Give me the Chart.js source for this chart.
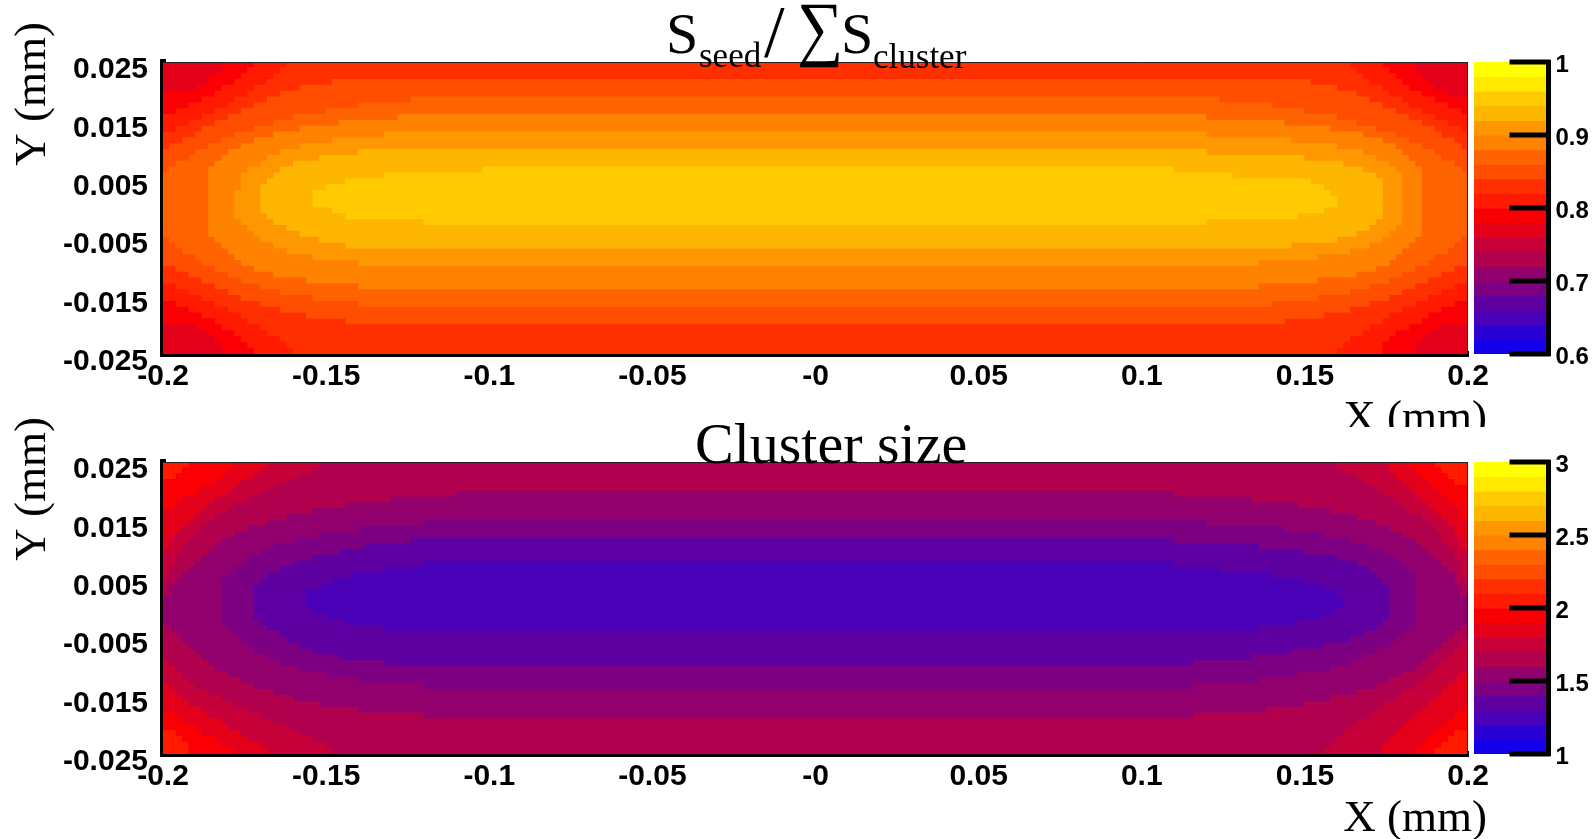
<!DOCTYPE html>
<html>
<head>
<meta charset="utf-8">
<script src="https://cdn.jsdelivr.net/npm/chart.js@4.4.1/dist/chart.umd.min.js"></script>
<style>
  html, body { margin: 0; padding: 0; background: #fff; }
  #page { position: relative; width: 1595px; height: 839px; overflow: hidden; background: #fff; }
  .pad { position: absolute; left: 0; width: 1595px; }
  .pad canvas { position: absolute; top: 0; }
</style>
</head>
<body>
<div id="page">
  <div class="pad" style="top:0;height:427px">
    <canvas id="seedMap" width="1595" height="427" style="left:0"></canvas>
    <canvas id="seedBar" width="121" height="427" style="left:1474px"></canvas>
  </div>
  <div class="pad" style="top:412px;height:427px">
    <canvas id="sizeMap" width="1595" height="427" style="left:0"></canvas>
    <canvas id="sizeBar" width="121" height="427" style="left:1474px"></canvas>
  </div>
</div>
<script>
// axis ticks
const xTickValues = [-0.2, -0.15, -0.1, -0.05, 0, 0.05, 0.1, 0.15, 0.2];
const xTickLabels = ['-0.2', '-0.15', '-0.1', '-0.05', '-0', '0.05', '0.1', '0.15', '0.2'];
const yTickValues = [-0.025, -0.015, -0.005, 0.005, 0.015, 0.025];
const yTickLabels = ['-0.025', '-0.015', '-0.005', '0.005', '0.015', '0.025'];

// y bin centres (mm), top row first
const yRows = [
  0.0245, 0.0235, 0.0225, 0.0215, 0.0205, 0.0195, 0.0185, 0.0175, 0.0165, 0.0155,
  0.0145, 0.0135, 0.0125, 0.0115, 0.0105, 0.0095, 0.0085, 0.0075, 0.0065, 0.0055,
  0.0045, 0.0035, 0.0025, 0.0015, 0.0005, -0.0005, -0.0015, -0.0025, -0.0035, -0.0045,
  -0.0055, -0.0065, -0.0075, -0.0085, -0.0095, -0.0105, -0.0115, -0.0125, -0.0135, -0.0145,
  -0.0155, -0.0165, -0.0175, -0.0185, -0.0195, -0.0205, -0.0215, -0.0225, -0.0235, -0.0245
];

// colour bins (20 contours) for each map
const seedEdges = [0.6, 0.62, 0.64, 0.66, 0.68, 0.7, 0.72, 0.74, 0.76, 0.78, 0.8, 0.82, 0.84, 0.86, 0.88, 0.9, 0.92, 0.94, 0.96, 0.98, 1.0];
const sizeEdges = [1, 1.1, 1.2, 1.3, 1.4, 1.5, 1.6, 1.7, 1.8, 1.9, 2, 2.1, 2.2, 2.3, 2.4, 2.5, 2.6, 2.7, 2.8, 2.9, 3];
const seedBarTicks = [0.6, 0.7, 0.8, 0.9, 1];
const seedBarLabels = ['0.6', '0.7', '0.8', '0.9', '1'];
const sizeBarTicks = [1, 1.5, 2, 2.5, 3];
const sizeBarLabels = ['1', '1.5', '2', '2.5', '3'];
const paletteColors = [
  '#1500ea', '#2a00d5', '#4900b6', '#5e00a1', '#7d0082', '#92006d', '#b1004e', '#c60039', '#e5001a', '#fa0005',
  '#ff1a00', '#ff2f00', '#ff4e00', '#ff6300', '#ff8200', '#ff9700', '#ffb600', '#ffcb00', '#ffea00', '#ffff00'
];

// S_seed / sum S_cluster, one list per y row: [x start (mm), value], each run lasts until the next start
const seedRows = [
  [[-0.2, 0.77], [-0.182, 0.79], [-0.172, 0.81], [-0.162, 0.83], [0.164, 0.81], [0.174, 0.79], [0.184, 0.77]],
  [[-0.2, 0.77], [-0.182, 0.79], [-0.174, 0.81], [-0.164, 0.83], [0.166, 0.81], [0.176, 0.79], [0.184, 0.77]],
  [[-0.2, 0.77], [-0.186, 0.79], [-0.176, 0.81], [-0.166, 0.83], [0.168, 0.81], [0.178, 0.79], [0.186, 0.77]],
  [[-0.2, 0.77], [-0.186, 0.79], [-0.178, 0.81], [-0.168, 0.83], [-0.148, 0.85], [0.152, 0.83], [0.17, 0.81], [0.18, 0.79], [0.188, 0.77]],
  [[-0.2, 0.77], [-0.19, 0.79], [-0.182, 0.81], [-0.172, 0.83], [-0.158, 0.85], [0.16, 0.83], [0.174, 0.81], [0.182, 0.79], [0.19, 0.77]],
  [[-0.2, 0.79], [-0.184, 0.81], [-0.174, 0.83], [-0.164, 0.85], [0.166, 0.83], [0.176, 0.81], [0.186, 0.79], [0.194, 0.77]],
  [[-0.2, 0.79], [-0.188, 0.81], [-0.178, 0.83], [-0.168, 0.85], [-0.124, 0.87], [0.124, 0.85], [0.17, 0.83], [0.18, 0.81], [0.19, 0.79]],
  [[-0.2, 0.79], [-0.192, 0.81], [-0.18, 0.83], [-0.172, 0.85], [-0.14, 0.87], [0.14, 0.85], [0.174, 0.83], [0.182, 0.81], [0.194, 0.79]],
  [[-0.2, 0.79], [-0.196, 0.81], [-0.184, 0.83], [-0.176, 0.85], [-0.15, 0.87], [0.15, 0.85], [0.178, 0.83], [0.186, 0.81], [0.198, 0.79]],
  [[-0.2, 0.81], [-0.188, 0.83], [-0.18, 0.85], [-0.16, 0.87], [-0.128, 0.89], [0.12, 0.87], [0.16, 0.85], [0.182, 0.83], [0.19, 0.81]],
  [[-0.2, 0.81], [-0.192, 0.83], [-0.184, 0.85], [-0.166, 0.87], [-0.146, 0.89], [0.144, 0.87], [0.166, 0.85], [0.186, 0.83], [0.194, 0.81]],
  [[-0.2, 0.81], [-0.196, 0.83], [-0.188, 0.85], [-0.172, 0.87], [-0.158, 0.89], [0.158, 0.87], [0.172, 0.85], [0.19, 0.83], [0.198, 0.81]],
  [[-0.2, 0.83], [-0.19, 0.85], [-0.178, 0.87], [-0.166, 0.89], [-0.132, 0.91], [0.12, 0.89], [0.168, 0.87], [0.178, 0.85], [0.192, 0.83]],
  [[-0.2, 0.83], [-0.194, 0.85], [-0.182, 0.87], [-0.172, 0.89], [-0.148, 0.91], [0.146, 0.89], [0.174, 0.87], [0.182, 0.85], [0.196, 0.83]],
  [[-0.2, 0.83], [-0.198, 0.85], [-0.186, 0.87], [-0.176, 0.89], [-0.158, 0.91], [0.16, 0.89], [0.178, 0.87], [0.186, 0.85], [0.198, 0.83]],
  [[-0.2, 0.85], [-0.19, 0.87], [-0.18, 0.89], [-0.164, 0.91], [-0.14, 0.93], [0.12, 0.91], [0.168, 0.89], [0.18, 0.87], [0.19, 0.85]],
  [[-0.2, 0.85], [-0.192, 0.87], [-0.182, 0.89], [-0.168, 0.91], [-0.152, 0.93], [0.15, 0.91], [0.172, 0.89], [0.182, 0.87], [0.192, 0.85]],
  [[-0.2, 0.85], [-0.196, 0.87], [-0.184, 0.89], [-0.17, 0.91], [-0.16, 0.93], [0.162, 0.91], [0.176, 0.89], [0.184, 0.87], [0.196, 0.85]],
  [[-0.2, 0.85], [-0.198, 0.87], [-0.186, 0.89], [-0.174, 0.91], [-0.164, 0.93], [-0.102, 0.95], [0.11, 0.93], [0.168, 0.91], [0.178, 0.89], [0.186, 0.87], [0.198, 0.85]],
  [[-0.2, 0.87], [-0.186, 0.89], [-0.176, 0.91], [-0.166, 0.93], [-0.132, 0.95], [0.128, 0.93], [0.172, 0.91], [0.18, 0.89], [0.186, 0.87]],
  [[-0.2, 0.87], [-0.186, 0.89], [-0.176, 0.91], [-0.168, 0.93], [-0.144, 0.95], [0.152, 0.93], [0.174, 0.91], [0.18, 0.89], [0.186, 0.87]],
  [[-0.2, 0.87], [-0.186, 0.89], [-0.176, 0.91], [-0.17, 0.93], [-0.15, 0.95], [0.156, 0.93], [0.174, 0.91], [0.18, 0.89], [0.186, 0.87]],
  [[-0.2, 0.87], [-0.186, 0.89], [-0.178, 0.91], [-0.17, 0.93], [-0.154, 0.95], [0.158, 0.93], [0.174, 0.91], [0.18, 0.89], [0.186, 0.87]],
  [[-0.2, 0.87], [-0.186, 0.89], [-0.178, 0.91], [-0.17, 0.93], [-0.154, 0.95], [0.16, 0.93], [0.174, 0.91], [0.18, 0.89], [0.186, 0.87]],
  [[-0.2, 0.87], [-0.186, 0.89], [-0.178, 0.91], [-0.17, 0.93], [-0.154, 0.95], [0.16, 0.93], [0.174, 0.91], [0.18, 0.89], [0.186, 0.87]],
  [[-0.2, 0.87], [-0.186, 0.89], [-0.178, 0.91], [-0.17, 0.93], [-0.148, 0.95], [0.156, 0.93], [0.174, 0.91], [0.18, 0.89], [0.186, 0.87]],
  [[-0.2, 0.87], [-0.186, 0.89], [-0.178, 0.91], [-0.168, 0.93], [-0.144, 0.95], [0.148, 0.93], [0.174, 0.91], [0.18, 0.89], [0.186, 0.87]],
  [[-0.2, 0.87], [-0.186, 0.89], [-0.176, 0.91], [-0.166, 0.93], [-0.12, 0.95], [0.12, 0.93], [0.172, 0.91], [0.18, 0.89], [0.186, 0.87]],
  [[-0.2, 0.87], [-0.186, 0.89], [-0.174, 0.91], [-0.162, 0.93], [0.17, 0.91], [0.178, 0.89], [0.186, 0.87]],
  [[-0.2, 0.87], [-0.186, 0.89], [-0.172, 0.91], [-0.158, 0.93], [0.166, 0.91], [0.176, 0.89], [0.186, 0.87]],
  [[-0.2, 0.85], [-0.198, 0.87], [-0.184, 0.89], [-0.17, 0.91], [-0.152, 0.93], [0.16, 0.91], [0.174, 0.89], [0.184, 0.87], [0.198, 0.85]],
  [[-0.2, 0.85], [-0.196, 0.87], [-0.182, 0.89], [-0.166, 0.91], [-0.144, 0.93], [0.146, 0.91], [0.17, 0.89], [0.182, 0.87], [0.196, 0.85]],
  [[-0.2, 0.85], [-0.194, 0.87], [-0.18, 0.89], [-0.162, 0.91], [0.164, 0.89], [0.18, 0.87], [0.194, 0.85]],
  [[-0.2, 0.85], [-0.19, 0.87], [-0.178, 0.89], [-0.154, 0.91], [0.154, 0.89], [0.178, 0.87], [0.19, 0.85]],
  [[-0.2, 0.85], [-0.188, 0.87], [-0.176, 0.89], [-0.14, 0.91], [0.136, 0.89], [0.176, 0.87], [0.188, 0.85]],
  [[-0.2, 0.83], [-0.196, 0.85], [-0.184, 0.87], [-0.172, 0.89], [0.172, 0.87], [0.184, 0.85], [0.196, 0.83]],
  [[-0.2, 0.83], [-0.192, 0.85], [-0.18, 0.87], [-0.166, 0.89], [0.166, 0.87], [0.18, 0.85], [0.192, 0.83]],
  [[-0.2, 0.83], [-0.188, 0.85], [-0.176, 0.87], [-0.156, 0.89], [0.154, 0.87], [0.176, 0.85], [0.188, 0.83]],
  [[-0.2, 0.81], [-0.196, 0.83], [-0.184, 0.85], [-0.17, 0.87], [-0.14, 0.89], [0.136, 0.87], [0.17, 0.85], [0.184, 0.83], [0.196, 0.81]],
  [[-0.2, 0.81], [-0.192, 0.83], [-0.18, 0.85], [-0.164, 0.87], [0.164, 0.85], [0.18, 0.83], [0.192, 0.81]],
  [[-0.2, 0.81], [-0.188, 0.83], [-0.176, 0.85], [-0.154, 0.87], [0.154, 0.85], [0.176, 0.83], [0.188, 0.81]],
  [[-0.2, 0.79], [-0.196, 0.81], [-0.184, 0.83], [-0.17, 0.85], [-0.14, 0.87], [0.14, 0.85], [0.17, 0.83], [0.184, 0.81], [0.196, 0.79]],
  [[-0.2, 0.79], [-0.192, 0.81], [-0.18, 0.83], [-0.164, 0.85], [0.164, 0.83], [0.18, 0.81], [0.192, 0.79]],
  [[-0.2, 0.79], [-0.188, 0.81], [-0.176, 0.83], [-0.156, 0.85], [0.156, 0.83], [0.176, 0.81], [0.188, 0.79]],
  [[-0.2, 0.79], [-0.184, 0.81], [-0.174, 0.83], [-0.144, 0.85], [0.144, 0.83], [0.174, 0.81], [0.186, 0.79]],
  [[-0.2, 0.77], [-0.19, 0.79], [-0.182, 0.81], [-0.17, 0.83], [0.17, 0.81], [0.182, 0.79], [0.192, 0.77]],
  [[-0.2, 0.77], [-0.186, 0.79], [-0.178, 0.81], [-0.168, 0.83], [0.168, 0.81], [0.178, 0.79], [0.188, 0.77]],
  [[-0.2, 0.77], [-0.184, 0.79], [-0.176, 0.81], [-0.164, 0.83], [0.164, 0.81], [0.176, 0.79], [0.186, 0.77]],
  [[-0.2, 0.77], [-0.182, 0.79], [-0.174, 0.81], [-0.162, 0.83], [0.162, 0.81], [0.174, 0.79], [0.184, 0.77]],
  [[-0.2, 0.77], [-0.182, 0.79], [-0.172, 0.81], [-0.16, 0.83], [0.16, 0.81], [0.174, 0.79], [0.184, 0.77]]
];

// cluster size, same layout
const sizeRows = [
  [[-0.2, 2.05], [-0.192, 1.95], [-0.178, 1.85], [-0.168, 1.75], [-0.152, 1.65], [0.16, 1.75], [0.176, 1.85], [0.182, 1.95], [0.19, 2.05]],
  [[-0.2, 2.05], [-0.194, 1.95], [-0.18, 1.85], [-0.17, 1.75], [-0.154, 1.65], [0.162, 1.75], [0.176, 1.85], [0.184, 1.95], [0.192, 2.05]],
  [[-0.2, 2.05], [-0.196, 1.95], [-0.182, 1.85], [-0.172, 1.75], [-0.158, 1.65], [0.166, 1.75], [0.178, 1.85], [0.186, 1.95], [0.194, 2.05]],
  [[-0.2, 1.95], [-0.184, 1.85], [-0.176, 1.75], [-0.162, 1.65], [0.168, 1.75], [0.18, 1.85], [0.188, 1.95], [0.196, 2.05]],
  [[-0.2, 1.95], [-0.188, 1.85], [-0.178, 1.75], [-0.166, 1.65], [0.172, 1.75], [0.182, 1.85], [0.19, 1.95]],
  [[-0.2, 1.95], [-0.19, 1.85], [-0.18, 1.75], [-0.17, 1.65], [-0.11, 1.55], [0.11, 1.65], [0.174, 1.75], [0.184, 1.85], [0.192, 1.95]],
  [[-0.2, 1.95], [-0.194, 1.85], [-0.184, 1.75], [-0.174, 1.65], [-0.13, 1.55], [0.134, 1.65], [0.178, 1.75], [0.186, 1.85], [0.194, 1.95]],
  [[-0.2, 1.95], [-0.196, 1.85], [-0.186, 1.75], [-0.178, 1.65], [-0.144, 1.55], [0.148, 1.65], [0.18, 1.75], [0.188, 1.85], [0.196, 1.95]],
  [[-0.2, 1.85], [-0.188, 1.75], [-0.18, 1.65], [-0.154, 1.55], [0.158, 1.65], [0.182, 1.75], [0.19, 1.85], [0.198, 1.95]],
  [[-0.2, 1.85], [-0.19, 1.75], [-0.184, 1.65], [-0.162, 1.55], [0.166, 1.65], [0.186, 1.75], [0.192, 1.85], [0.198, 1.95]],
  [[-0.2, 1.85], [-0.192, 1.75], [-0.186, 1.65], [-0.168, 1.55], [-0.12, 1.45], [0.12, 1.55], [0.172, 1.65], [0.188, 1.75], [0.194, 1.85]],
  [[-0.2, 1.85], [-0.194, 1.75], [-0.188, 1.65], [-0.174, 1.55], [-0.14, 1.45], [0.144, 1.55], [0.176, 1.65], [0.19, 1.75], [0.196, 1.85]],
  [[-0.2, 1.85], [-0.196, 1.75], [-0.19, 1.65], [-0.178, 1.55], [-0.152, 1.45], [0.156, 1.55], [0.18, 1.65], [0.192, 1.75], [0.196, 1.85]],
  [[-0.2, 1.85], [-0.198, 1.75], [-0.192, 1.65], [-0.182, 1.55], [-0.16, 1.45], [-0.124, 1.35], [0.11, 1.45], [0.164, 1.55], [0.184, 1.65], [0.192, 1.75], [0.198, 1.85]],
  [[-0.2, 1.85], [-0.198, 1.75], [-0.194, 1.65], [-0.184, 1.55], [-0.166, 1.45], [-0.138, 1.35], [0.136, 1.45], [0.17, 1.55], [0.186, 1.65], [0.194, 1.75], [0.198, 1.85]],
  [[-0.2, 1.75], [-0.194, 1.65], [-0.186, 1.55], [-0.17, 1.45], [-0.146, 1.35], [0.15, 1.45], [0.174, 1.55], [0.188, 1.65], [0.196, 1.75]],
  [[-0.2, 1.75], [-0.196, 1.65], [-0.188, 1.55], [-0.174, 1.45], [-0.154, 1.35], [0.16, 1.45], [0.178, 1.55], [0.19, 1.65], [0.196, 1.75]],
  [[-0.2, 1.75], [-0.196, 1.65], [-0.19, 1.55], [-0.176, 1.45], [-0.16, 1.35], [-0.12, 1.25], [0.11, 1.35], [0.166, 1.45], [0.18, 1.55], [0.192, 1.65], [0.198, 1.75]],
  [[-0.2, 1.75], [-0.198, 1.65], [-0.192, 1.55], [-0.178, 1.45], [-0.164, 1.35], [-0.132, 1.25], [0.124, 1.35], [0.17, 1.45], [0.182, 1.55], [0.194, 1.65], [0.198, 1.75]],
  [[-0.2, 1.75], [-0.198, 1.65], [-0.194, 1.55], [-0.18, 1.45], [-0.168, 1.35], [-0.142, 1.25], [0.14, 1.35], [0.172, 1.45], [0.184, 1.55], [0.196, 1.65], [0.198, 1.75]],
  [[-0.2, 1.65], [-0.196, 1.55], [-0.182, 1.45], [-0.17, 1.35], [-0.148, 1.25], [0.15, 1.35], [0.174, 1.45], [0.184, 1.55], [0.196, 1.65]],
  [[-0.2, 1.65], [-0.198, 1.55], [-0.182, 1.45], [-0.172, 1.35], [-0.152, 1.25], [0.156, 1.35], [0.176, 1.45], [0.184, 1.55], [0.198, 1.65]],
  [[-0.2, 1.65], [-0.198, 1.55], [-0.182, 1.45], [-0.172, 1.35], [-0.156, 1.25], [0.16, 1.35], [0.176, 1.45], [0.184, 1.55], [0.198, 1.65]],
  [[-0.2, 1.55], [-0.182, 1.45], [-0.172, 1.35], [-0.156, 1.25], [0.162, 1.35], [0.176, 1.45], [0.184, 1.55]],
  [[-0.2, 1.55], [-0.182, 1.45], [-0.172, 1.35], [-0.156, 1.25], [0.162, 1.35], [0.176, 1.45], [0.184, 1.55]],
  [[-0.2, 1.55], [-0.182, 1.45], [-0.172, 1.35], [-0.154, 1.25], [0.16, 1.35], [0.176, 1.45], [0.184, 1.55]],
  [[-0.2, 1.55], [-0.182, 1.45], [-0.172, 1.35], [-0.15, 1.25], [0.156, 1.35], [0.176, 1.45], [0.184, 1.55]],
  [[-0.2, 1.55], [-0.182, 1.45], [-0.17, 1.35], [-0.144, 1.25], [0.148, 1.35], [0.174, 1.45], [0.184, 1.55]],
  [[-0.2, 1.65], [-0.198, 1.55], [-0.18, 1.45], [-0.168, 1.35], [-0.132, 1.25], [0.136, 1.35], [0.172, 1.45], [0.182, 1.55], [0.198, 1.65]],
  [[-0.2, 1.65], [-0.196, 1.55], [-0.178, 1.45], [-0.164, 1.35], [0.168, 1.45], [0.18, 1.55], [0.196, 1.65]],
  [[-0.2, 1.65], [-0.194, 1.55], [-0.176, 1.45], [-0.162, 1.35], [0.164, 1.45], [0.178, 1.55], [0.194, 1.65]],
  [[-0.2, 1.65], [-0.192, 1.55], [-0.174, 1.45], [-0.158, 1.35], [0.156, 1.45], [0.176, 1.55], [0.192, 1.65], [0.198, 1.75]],
  [[-0.2, 1.65], [-0.19, 1.55], [-0.172, 1.45], [-0.154, 1.35], [0.146, 1.45], [0.172, 1.55], [0.19, 1.65], [0.196, 1.75]],
  [[-0.2, 1.65], [-0.188, 1.55], [-0.168, 1.45], [-0.146, 1.35], [0.134, 1.45], [0.168, 1.55], [0.188, 1.65], [0.194, 1.75]],
  [[-0.2, 1.75], [-0.198, 1.65], [-0.186, 1.55], [-0.164, 1.45], [-0.132, 1.35], [0.116, 1.45], [0.164, 1.55], [0.186, 1.65], [0.192, 1.75]],
  [[-0.2, 1.75], [-0.196, 1.65], [-0.184, 1.55], [-0.158, 1.45], [0.158, 1.55], [0.184, 1.65], [0.19, 1.75]],
  [[-0.2, 1.75], [-0.194, 1.65], [-0.18, 1.55], [-0.15, 1.45], [0.148, 1.55], [0.18, 1.65], [0.188, 1.75], [0.198, 1.85]],
  [[-0.2, 1.75], [-0.192, 1.65], [-0.176, 1.55], [-0.14, 1.45], [0.136, 1.55], [0.176, 1.65], [0.186, 1.75], [0.196, 1.85]],
  [[-0.2, 1.85], [-0.198, 1.75], [-0.19, 1.65], [-0.172, 1.55], [-0.12, 1.45], [0.116, 1.55], [0.172, 1.65], [0.184, 1.75], [0.194, 1.85]],
  [[-0.2, 1.85], [-0.196, 1.75], [-0.186, 1.65], [-0.166, 1.55], [0.166, 1.65], [0.18, 1.75], [0.192, 1.85]],
  [[-0.2, 1.85], [-0.194, 1.75], [-0.182, 1.65], [-0.16, 1.55], [0.158, 1.65], [0.178, 1.75], [0.19, 1.85]],
  [[-0.2, 1.85], [-0.192, 1.75], [-0.178, 1.65], [-0.152, 1.55], [0.15, 1.65], [0.174, 1.75], [0.188, 1.85]],
  [[-0.2, 1.85], [-0.188, 1.75], [-0.174, 1.65], [-0.14, 1.55], [0.138, 1.65], [0.172, 1.75], [0.186, 1.85], [0.198, 1.95]],
  [[-0.2, 1.95], [-0.196, 1.85], [-0.186, 1.75], [-0.17, 1.65], [-0.12, 1.55], [0.116, 1.65], [0.17, 1.75], [0.184, 1.85], [0.196, 1.95]],
  [[-0.2, 1.95], [-0.194, 1.85], [-0.182, 1.75], [-0.166, 1.65], [0.166, 1.75], [0.182, 1.85], [0.194, 1.95]],
  [[-0.2, 1.95], [-0.19, 1.85], [-0.18, 1.75], [-0.162, 1.65], [0.164, 1.75], [0.18, 1.85], [0.192, 1.95]],
  [[-0.2, 2.05], [-0.196, 1.95], [-0.188, 1.85], [-0.176, 1.75], [-0.158, 1.65], [0.162, 1.75], [0.178, 1.85], [0.19, 1.95], [0.196, 2.05]],
  [[-0.2, 2.05], [-0.194, 1.95], [-0.184, 1.85], [-0.174, 1.75], [-0.154, 1.65], [0.16, 1.75], [0.176, 1.85], [0.188, 1.95], [0.194, 2.05]],
  [[-0.2, 2.05], [-0.192, 1.95], [-0.182, 1.85], [-0.17, 1.75], [-0.15, 1.65], [0.158, 1.75], [0.174, 1.85], [0.186, 1.95], [0.192, 2.05]],
  [[-0.2, 2.05], [-0.192, 1.95], [-0.178, 1.85], [-0.168, 1.75], [-0.148, 1.65], [0.156, 1.75], [0.174, 1.85], [0.184, 1.95], [0.19, 2.05]]
];

Chart.defaults.font.family = "'Liberation Sans', Arial, Helvetica, sans-serif";
const tickFont = { size: 30, weight: 'bold' };
const serif = "'Liberation Serif', 'Times New Roman', serif";

function colorFor(v, edges) {
  for (let k = 0; k < edges.length - 1; k++) {
    if (v >= edges[k] && v < edges[k + 1]) return paletteColors[k];
  }
  return paletteColors[paletteColors.length - 1];
}

// one floating horizontal bar per run of equal value
function heatData(rows, edges) {
  const xEnd = xTickValues[xTickValues.length - 1];
  const points = [];
  const colors = [];
  rows.forEach((runs, r) => {
    runs.forEach(([x0, v], i) => {
      const x1 = i + 1 < runs.length ? runs[i + 1][0] : xEnd;
      points.push({ y: yRows[r], x: [x0, x1] });
      colors.push(colorFor(v, edges));
    });
  });
  return { points, colors };
}

// thin frame on top/right plus the pad's texts
const padText = {
  id: 'padText',
  afterDatasetsDraw(chart) {
    const { ctx, chartArea: a } = chart;
    ctx.save();
    ctx.strokeStyle = '#222';
    ctx.lineWidth = 1;
    ctx.beginPath();
    ctx.moveTo(a.left, a.top + 0.5);
    ctx.lineTo(a.right - 0.5, a.top + 0.5);
    ctx.lineTo(a.right - 0.5, a.bottom);
    ctx.stroke();
    ctx.restore();
  },
  afterDraw(chart, args, opts) {
    const { ctx } = chart;
    ctx.save();
    ctx.fillStyle = '#000';
    ctx.textBaseline = 'alphabetic';
    ctx.textAlign = 'left';
    opts.title.forEach(seg => {
      ctx.save();
      ctx.font = seg.size + 'px ' + serif;
      ctx.translate(seg.x, opts.titleBase + (seg.dy || 0));
      ctx.scale(seg.sx || 1, 1);
      ctx.fillText(seg.text, 0, 0);
      ctx.restore();
    });
    ctx.font = '45px ' + serif;
    ctx.textAlign = 'right';
    ctx.fillText('X (mm)', opts.xTitle[0], opts.xTitle[1]);
    ctx.translate(opts.yTitle[0], opts.yTitle[1]);
    ctx.rotate(-Math.PI / 2);
    ctx.fillText('Y (mm)', 0, 0);
    ctx.restore();
  }
};

// inward tick marks on the palette axis
const paletteTicks = {
  id: 'paletteTicks',
  afterDraw(chart) {
    const { ctx, chartArea: a } = chart;
    const scale = chart.scales.y;
    ctx.save();
    ctx.strokeStyle = '#000';
    ctx.lineWidth = 5;
    scale.ticks.forEach(t => {
      const y = scale.getPixelForValue(t.value);
      ctx.beginPath();
      ctx.moveTo(a.right - 39, y);
      ctx.lineTo(a.right + 2, y);
      ctx.stroke();
    });
    ctx.beginPath();
    ctx.moveTo(a.right, a.top - 2);
    ctx.lineTo(a.right, a.bottom + 2);
    ctx.stroke();
    ctx.restore();
  }
};

function mapChart(id, rows, edges, frame, texts) {
  const canvas = document.getElementById(id);
  const { points, colors } = heatData(rows, edges);
  return new Chart(canvas, {
    type: 'bar',
    data: {
      datasets: [{
        data: points,
        backgroundColor: colors,
        borderWidth: 0,
        barPercentage: 1,
        categoryPercentage: 1,
        inflateAmount: 0.5
      }]
    },
    options: {
      indexAxis: 'y',
      responsive: false,
      animation: false,
      events: [],
      layout: { padding: { left: 0, right: canvas.width - frame.right, top: frame.top, bottom: 0 } },
      plugins: { legend: { display: false }, tooltip: { enabled: false }, padText: texts },
      scales: {
        x: {
          type: 'linear', min: -0.2, max: 0.2, offset: false, z: 1,
          afterBuildTicks: s => { s.ticks = xTickValues.map(v => ({ value: v })); },
          afterFit: s => { s.height = canvas.height - frame.bottom; },
          ticks: { callback: (v, i) => xTickLabels[i], font: tickFont, color: '#000', padding: 5, maxRotation: 0, autoSkip: false },
          grid: { display: false, drawTicks: false, offset: false },
          border: { display: true, width: 6, color: '#000' }
        },
        y: {
          type: 'linear', min: -0.025, max: 0.025, offset: false, z: 1,
          afterBuildTicks: s => { s.ticks = yTickValues.map(v => ({ value: v })); },
          afterFit: s => { s.width = frame.left; },
          ticks: { callback: (v, i) => yTickLabels[i], font: tickFont, color: '#000', padding: 15, labelOffset: 8, autoSkip: false },
          grid: { display: false, drawTicks: false, offset: false },
          border: { display: true, width: 6, color: '#000' }
        }
      }
    },
    plugins: [padText]
  });
}

function paletteChart(id, edges, ticks, labels, frame) {
  const canvas = document.getElementById(id);
  const boxWidth = 74.5;
  const points = edges.slice(0, -1).map((lo, k) => ({ x: 0, y: [lo, edges[k + 1]] }));
  return new Chart(canvas, {
    type: 'bar',
    data: { datasets: [{ data: points, backgroundColor: paletteColors, borderWidth: 0, barThickness: boxWidth, inflateAmount: 0.5 }] },
    options: {
      responsive: false,
      animation: false,
      events: [],
      layout: { padding: { left: 0, right: 0, top: frame.top, bottom: canvas.height - frame.bottom } },
      plugins: { legend: { display: false }, tooltip: { enabled: false } },
      scales: {
        x: { type: 'linear', display: false, min: -0.5, max: 0.5, offset: false },
        y: {
          type: 'linear', position: 'right', min: edges[0], max: edges[edges.length - 1], offset: false, z: 1,
          afterBuildTicks: s => { s.ticks = ticks.map(v => ({ value: v })); },
          afterFit: s => { s.width = canvas.width - boxWidth; },
          ticks: { callback: (v, i) => labels[i], font: { size: 24, weight: 'bold' }, color: '#000', padding: 7, labelOffset: 3, autoSkip: false },
          grid: { display: false, drawTicks: false },
          border: { display: true, width: 5, color: '#000' }
        }
      }
    },
    plugins: [paletteTicks]
  });
}

mapChart('seedMap', seedRows, seedEdges, { left: 163, right: 1468, top: 62, bottom: 354 }, {
  titleBase: 53,
  title: [
    { text: 'S', size: 58, x: 666 },
    { text: 'seed', size: 35, x: 699, dy: 14 },
    { text: '/', size: 74, x: 764, dy: 4 },
    { text: '\u2211', size: 72, x: 797, dy: -1, sx: 0.9 },
    { text: 'S', size: 58, x: 841 },
    { text: 'cluster', size: 35, x: 873, dy: 15 }
  ],
  xTitle: [1487, 431],
  yTitle: [45, 22]
});
paletteChart('seedBar', seedEdges, seedBarTicks, seedBarLabels, { top: 62, bottom: 354 });

mapChart('sizeMap', sizeRows, sizeEdges, { left: 163, right: 1468, top: 50, bottom: 342 }, {
  titleBase: 51,
  title: [{ text: 'Cluster size', size: 58, x: 695 }],
  xTitle: [1487, 419],
  yTitle: [45, 5]
});
paletteChart('sizeBar', sizeEdges, sizeBarTicks, sizeBarLabels, { top: 50, bottom: 342 });
</script>
</body>
</html>
